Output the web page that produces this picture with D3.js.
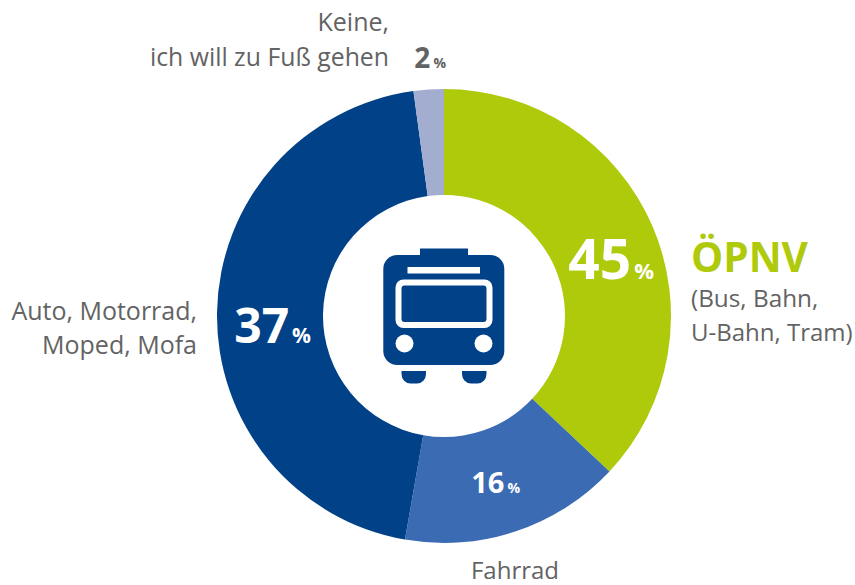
<!DOCTYPE html>
<html><head><meta charset="utf-8">
<script src="https://cdn.jsdelivr.net/npm/d3@7"></script>
<style>html,body{margin:0;padding:0;background:#fff}svg{display:block}text{font-family:"Open Sans","Noto Sans",sans-serif}</style>
</head><body><svg id="c" width="855" height="585"></svg>
<script>
const categories = ["ÖPNV","Fahrrad","Auto","Keine"];
const arcShares = [37,15.75,45.1,2.15];
const labelValues = [45,16,37,2];
const colors = ["#afca0b","#3a6bb3","#004188","#a2add0"];
const grey = "#636363", navy = "#004188";

const svg = d3.select("#c");
const cx = 444, cy = 316, R = 227, r = 121;
const pie = d3.pie().sort(null)(arcShares);
const arc = d3.arc().innerRadius(r).outerRadius(R);
const g = svg.append("g").attr("transform",`translate(${cx},${cy})`);
g.selectAll("path").data(pie).join("path").attr("d",arc).attr("fill",(d,i)=>colors[i]);

function txt(x,y,s,size,fill,anchor,weight){
  return svg.append("text").attr("x",x).attr("y",y).attr("font-size",size).attr("fill",fill)
    .attr("text-anchor",anchor||"start").attr("font-weight",weight||400).text(s);
}
function val(xEnd,y,v,size,pSize,fill){
  const t = svg.append("text").attr("x",xEnd).attr("y",y).attr("text-anchor","end").attr("fill",fill).attr("font-weight",700);
  t.append("tspan").attr("font-size",size).text(v);
  t.append("tspan").attr("font-size",pSize).attr("dx",3).text("%");
}
val(654,279,labelValues[0],55,22,"#fff");
val(520,493,labelValues[1],29,14,"#fff");
val(311,343,labelValues[2],48,21,"#fff");
val(446,68,labelValues[3],28,14,grey);

txt(691,272,"ÖPNV",40.5,colors[0],"start",700);
txt(691,307,"(Bus, Bahn,",24.3,grey);
txt(691,341,"U-Bahn, Tram)",24,grey);
txt(197,320,"Auto, Motorrad,",25,grey,"end");
txt(197,354,"Moped, Mofa",25,grey,"end");
txt(515,579,"Fahrrad",24,grey,"middle");
txt(389,31,"Keine,",25,grey,"end");
txt(389,66,"ich will zu Fuß gehen",24.8,grey,"end");

const ic = svg.append("g");
ic.append("rect").attr("x",420).attr("y",248.5).attr("width",48).attr("height",10).attr("fill",navy);
ic.append("rect").attr("x",383.3).attr("y",255).attr("width",121).attr("height",110).attr("rx",14).attr("fill",navy);
ic.append("rect").attr("x",407.5).attr("y",267).attr("width",72.5).attr("height",6.5).attr("fill","#fff");
ic.append("rect").attr("x",395.5).attr("y",279.5).attr("width",97).attr("height",48.5).attr("rx",8).attr("fill","#fff");
ic.append("rect").attr("x",401.5).attr("y",285.5).attr("width",85).attr("height",36.5).attr("rx",3).attr("fill",navy);
[404.5,483.5].forEach(x=>ic.append("circle").attr("cx",x).attr("cy",343.5).attr("r",9).attr("fill","#fff"));
[401.5,462].forEach(x=>ic.append("path").attr("fill",navy)
  .attr("d",`M${x},371h24.5v3a9,9.5 0 0 1 -9,9.5h-6.5a9,9.5 0 0 1 -9,-9.5z`));
</script></body></html>
